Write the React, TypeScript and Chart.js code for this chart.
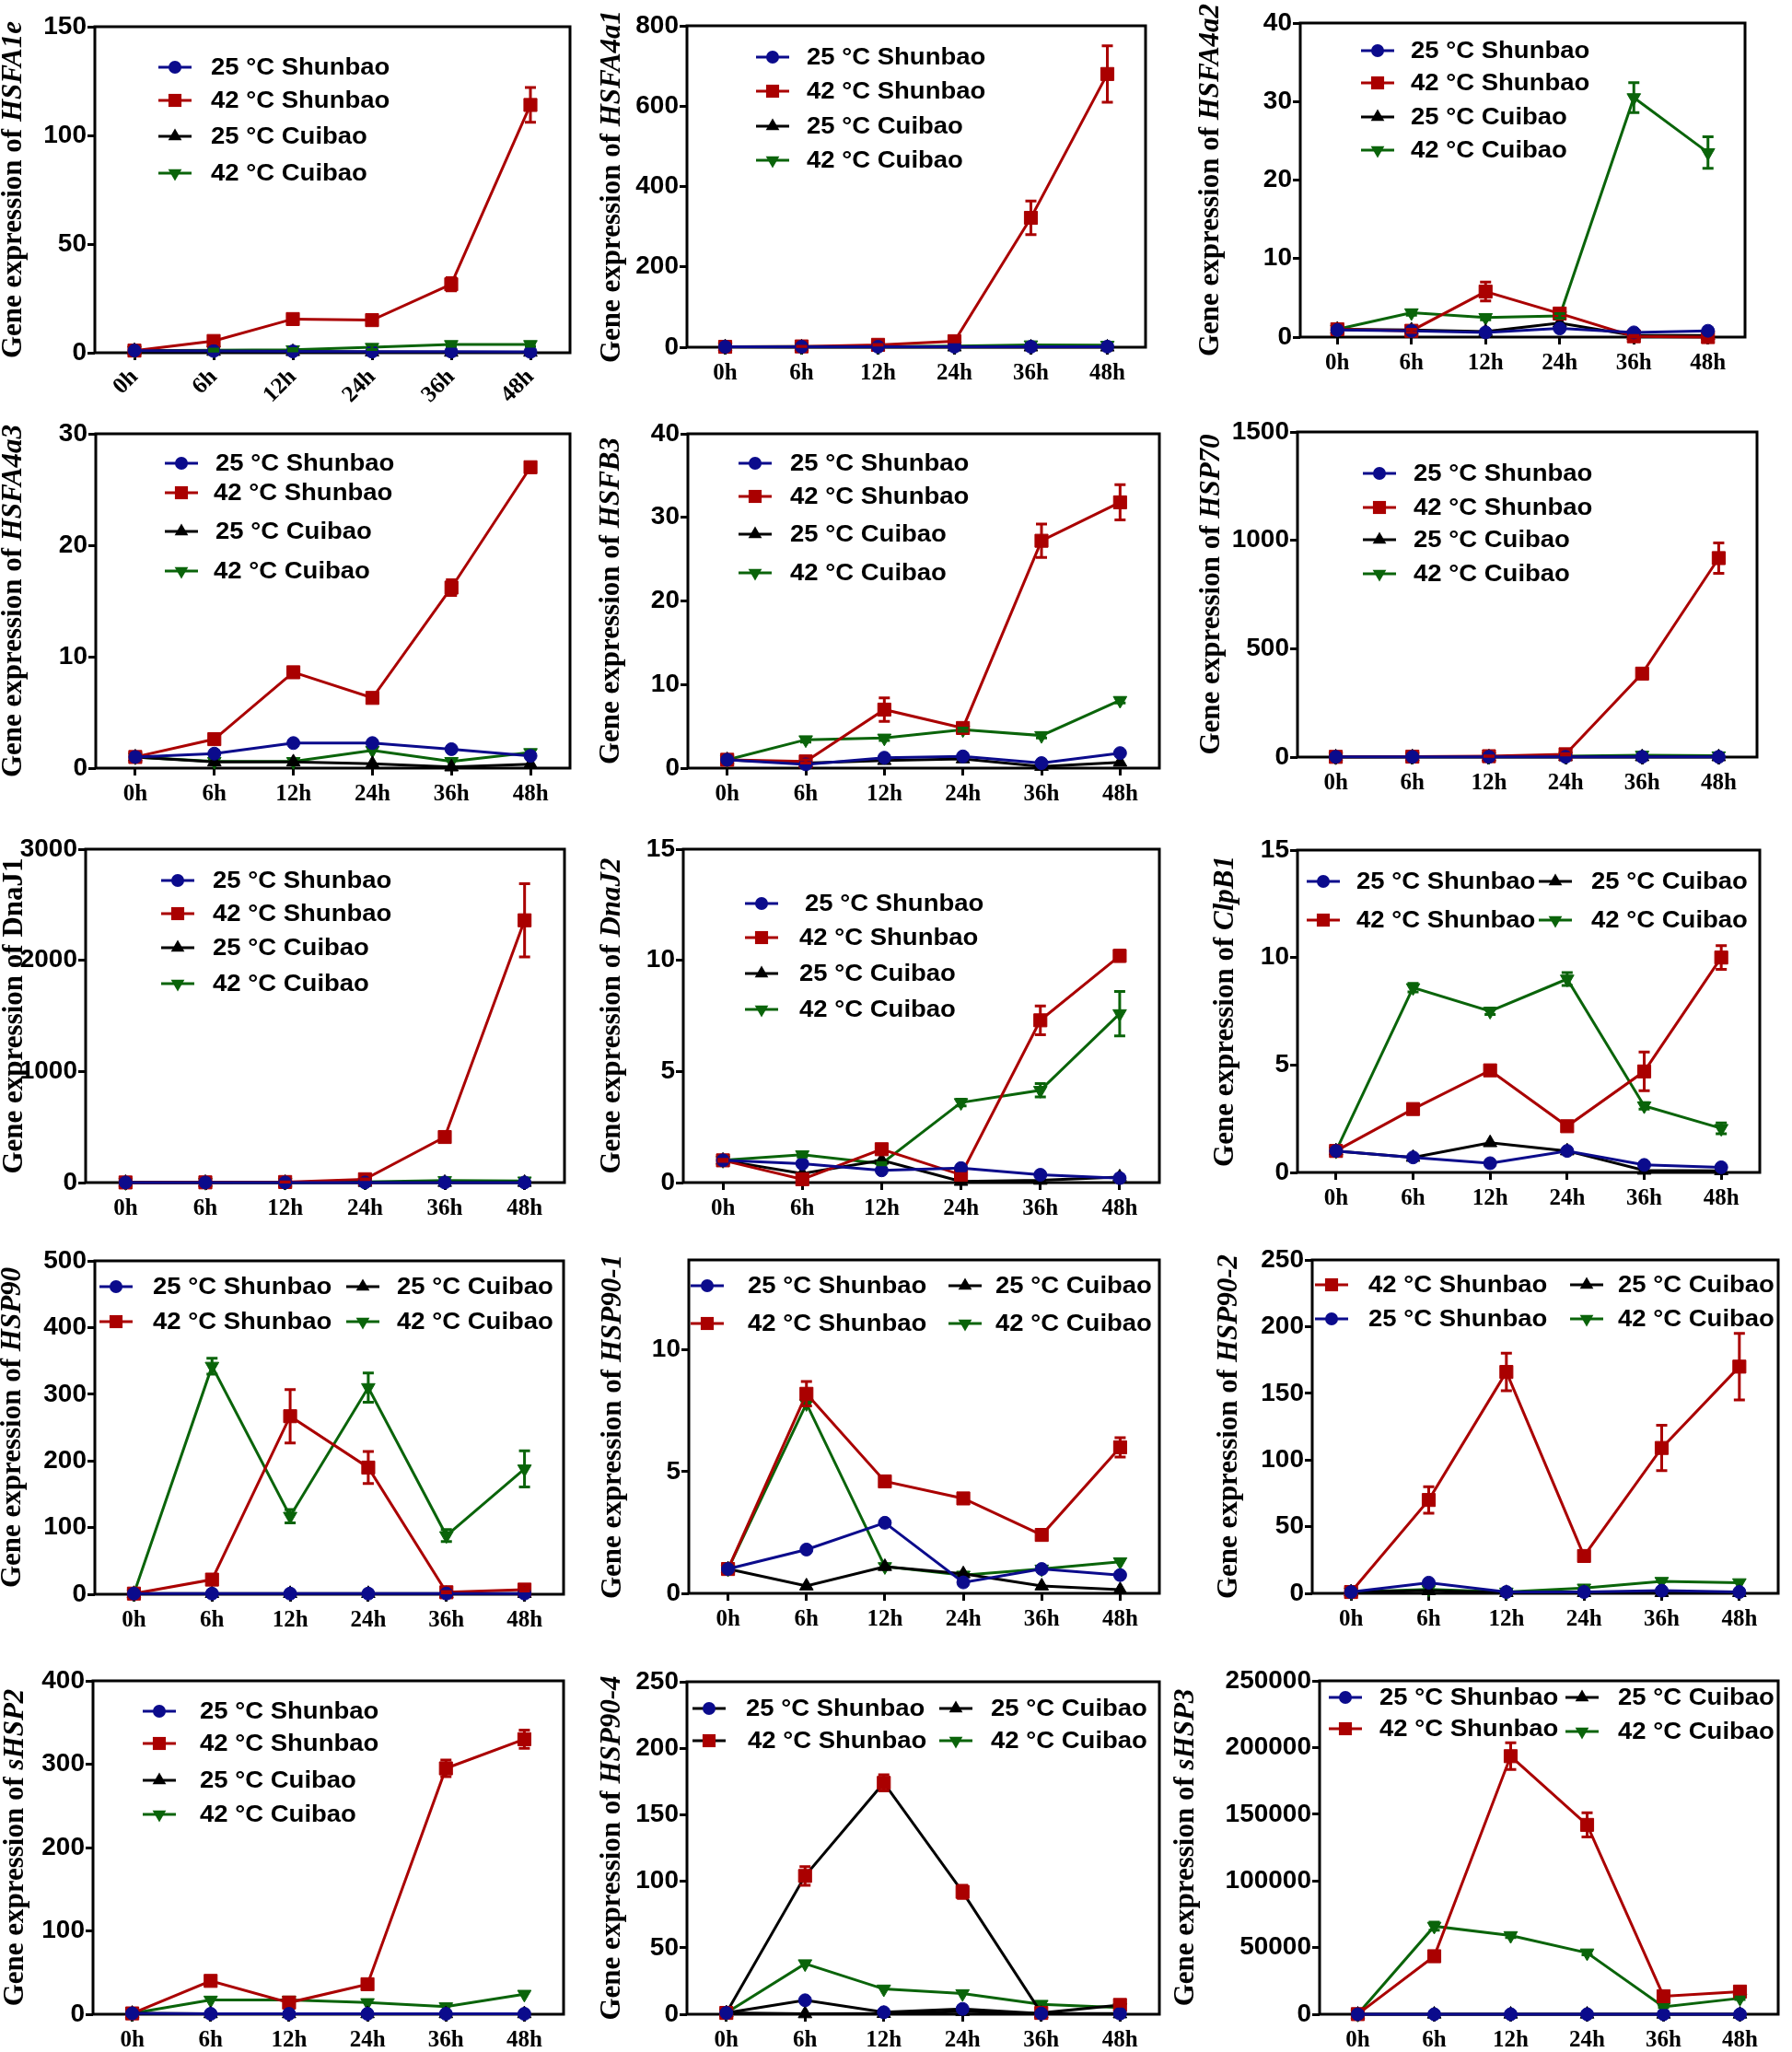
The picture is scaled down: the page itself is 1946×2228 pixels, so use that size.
import React, { useEffect, useRef } from "react";
import { Chart, registerables } from "chart.js";

Chart.register(...registerables);

// ---------- shared categories / labels ----------
const TIMES = ["0h", "6h", "12h", "24h", "36h", "48h"];
const SERIES_LABELS = ["25 °C Shunbao", "42 °C Shunbao", "25 °C Cuibao", "42 °C Cuibao"];

// ---------- data (order: 0h, 6h, 12h, 24h, 36h, 48h) ----------
// HSFA1e
const HSFA1E_S25 = [1, 0.8, 0.6, 0.5, 0.5, 0.4];
const HSFA1E_S42 = [1, 5.4, 15.5, 15, 31.5, 114];
const HSFA1E_C25 = [1, 0.6, 0.5, 0.3, 0.2, 0.2];
const HSFA1E_C42 = [1, 1.2, 1.4, 2.5, 3.8, 3.8];
const HSFA1E_S42_ERR = [0, 0.8, 1.2, 1.2, 3, 8];
const HSFA1E_C42_ERR = [0, 0.5, 0.5, 1, 0.8, 0.8];
// HSFA4a1
const HSFA4A1_S25 = [1, 1.2, 1.1, 1.3, 1.2, 1.4];
const HSFA4A1_S42 = [1, 2, 6, 15, 322, 680];
const HSFA4A1_C25 = [1, 0.6, 0.5, 0.4, 0.4, 0.3];
const HSFA4A1_C42 = [1, 1.5, 2, 3, 6, 5];
const HSFA4A1_S42_ERR = [0, 0.5, 1, 2, 42, 70];
// HSFA4a2
const HSFA4A2_S25 = [0.9, 0.8, 0.6, 1.1, 0.6, 0.8];
const HSFA4A2_S42 = [1, 0.8, 5.8, 3.0, 0.1, 0];
const HSFA4A2_C25 = [1, 0.9, 0.7, 1.8, 0.2, 0.2];
const HSFA4A2_C42 = [1, 3.1, 2.5, 2.7, 30.5, 23.5];
const HSFA4A2_S42_ERR = [0, 0.2, 1.2, 0.4, 0.1, 0];
const HSFA4A2_C42_ERR = [0, 0.3, 0.3, 0.3, 1.9, 2];
// HSFA4a3
const HSFA4A3_S25 = [1, 1.3, 2.25, 2.25, 1.7, 1.1];
const HSFA4A3_S42 = [1, 2.6, 8.6, 6.3, 16.2, 27];
const HSFA4A3_C25 = [1, 0.55, 0.55, 0.4, 0.1, 0.35];
const HSFA4A3_C42 = [1, 0.6, 0.6, 1.6, 0.6, 1.4];
const HSFA4A3_S42_ERR = [0, 0.2, 0.3, 0.2, 0.7, 0.2];
// HSFB3
const HSFB3_S25 = [1, 0.45, 1.25, 1.4, 0.6, 1.8];
const HSFB3_S42 = [1, 0.8, 7.0, 4.8, 27.2, 31.8];
const HSFB3_C25 = [1, 0.6, 0.9, 1.1, 0.2, 0.7];
const HSFB3_C42 = [1, 3.4, 3.6, 4.6, 3.9, 8.1];
const HSFB3_S42_ERR = [0, 0.2, 1.4, 0.3, 2, 2.1];
const HSFB3_C42_ERR = [0, 0.3, 0.3, 0.2, 0.3, 0.3];
// HSP70
const HSP70_S25 = [1, 1, 1, 1, 1, 1];
const HSP70_S42 = [1, 2, 4, 13, 385, 918];
const HSP70_C25 = [1, 1, 1, 1, 1, 1];
const HSP70_C42 = [1, 2, 2, 4, 9, 6];
const HSP70_S42_ERR = [0, 0, 1, 3, 12, 70];
// DnaJ1
const DNAJ1_S25 = [1, 1, 1, 1, 1, 1];
const DNAJ1_S42 = [1, 2, 5, 30, 410, 2360];
const DNAJ1_C25 = [1, 1, 1, 1, 1, 1];
const DNAJ1_C42 = [1, 2, 3, 6, 18, 15];
const DNAJ1_S42_ERR = [0, 0, 1, 3, 25, 330];
// DnaJ2
const DNAJ2_S25 = [1, 0.85, 0.55, 0.65, 0.35, 0.2];
const DNAJ2_S42 = [1, 0.15, 1.5, 0.35, 7.3, 10.2];
const DNAJ2_C25 = [1, 0.4, 1.0, 0.05, 0.1, 0.25];
const DNAJ2_C42 = [1, 1.25, 0.85, 3.6, 4.15, 7.6];
const DNAJ2_S42_ERR = [0.05, 0.05, 0.1, 0.05, 0.65, 0.25];
const DNAJ2_C42_ERR = [0, 0.1, 0.05, 0.15, 0.3, 1.0];
// ClpB1
const CLPB1_S25 = [1, 0.7, 0.43, 1.0, 0.35, 0.24];
const CLPB1_S42 = [1, 2.95, 4.75, 2.15, 4.7, 10.0];
const CLPB1_C25 = [1, 0.7, 1.38, 1.0, 0.1, 0.08];
const CLPB1_C42 = [1, 8.6, 7.5, 9.0, 3.1, 2.05];
const CLPB1_S42_ERR = [0, 0.1, 0.15, 0.1, 0.9, 0.55];
const CLPB1_C42_ERR = [0, 0.2, 0.15, 0.3, 0.15, 0.25];
// HSP90
const HSP90_S25 = [1, 1, 1, 1, 1, 1];
const HSP90_S42 = [1, 22, 267, 190, 3, 7];
const HSP90_C25 = [1, 1, 1, 1, 1, 1];
const HSP90_C42 = [1, 342, 117, 310, 88, 188];
const HSP90_S42_ERR = [0, 2, 40, 24, 1, 2];
const HSP90_C42_ERR = [0, 12, 10, 22, 9, 27];
// HSP90-1
const HSP901_S25 = [1, 1.8, 2.9, 0.45, 1.0, 0.75];
const HSP901_S42 = [1, 8.2, 4.6, 3.9, 2.4, 6.0];
const HSP901_C25 = [1, 0.3, 1.1, 0.8, 0.3, 0.15];
const HSP901_C42 = [1, 7.8, 1.1, 0.75, 1.0, 1.3];
const HSP901_S42_ERR = [0, 0.5, 0.2, 0.1, 0.1, 0.4];
// HSP90-2
const HSP902_S25 = [1, 8, 1, 1, 2, 1];
const HSP902_S42 = [1, 70, 166, 28, 109, 170];
const HSP902_C25 = [1, 2, 0.5, 0.5, 0.5, 0.5];
const HSP902_C42 = [1, 3, 1, 4, 9, 8];
const HSP902_S42_ERR = [0, 10, 14, 3, 17, 25];
// sHSP2
const SHSP2_S25 = [1, 0.5, 0.5, 0.5, 0.5, 0.5];
const SHSP2_S42 = [1, 40, 14, 36, 295, 330];
const SHSP2_C25 = [1, 0.5, 0.5, 0.5, 0.5, 0.5];
const SHSP2_C42 = [1, 17, 17, 14, 9, 24];
const SHSP2_S42_ERR = [0, 3, 2, 3, 10, 11];
// HSP90-4
const HSP904_S25 = [1, 10.5, 1.5, 4, 0.5, 0.5];
const HSP904_S42 = [1, 104, 174, 92, 1, 7];
const HSP904_C25 = [1, 0.3, 0.5, 2, 0.5, 0.2];
const HSP904_C42 = [1, 38, 19, 15.5, 7.5, 5];
const HSP904_S42_ERR = [0, 7, 6, 5, 0, 1];
// sHSP3
const SHSP3_S25 = [1, 1, 1, 1, 1, 1];
const SHSP3_S42 = [100, 43500, 193500, 142000, 13500, 17000];
const SHSP3_C25 = [1, 1, 1, 1, 1, 1];
const SHSP3_C42 = [100, 66000, 59000, 46000, 5500, 12000];
const SHSP3_S42_ERR = [0, 2500, 10000, 9000, 1500, 1000];
const SHSP3_C42_ERR = [0, 3000, 1500, 1500, 500, 1000];

// ---------- styles ----------
const COLORS = ["#0b0b8c", "#aa0000", "#000000", "#0a640a"];
const POINT_STYLES = ["circle", "rect", "triangle", "triangle"];
const POINT_ROT = [0, 0, 0, 180];
const POINT_RADII = [7, 10, 8.5, 8.5];
const SANS = "'Liberation Sans', Arial, Helvetica, sans-serif";
const SERIF = "'Liberation Serif', 'Times New Roman', serif";

type Entry = [number, number, number, number]; // series, markerX, textX, y (page coords)

interface Panel {
  gene: string;
  italic: boolean;
  values: number[][];
  errors: (number[] | null)[];
  yMax: number;
  yStep: number;
  cell: [number, number, number, number];
  plot: [number, number, number, number];
  titleX: number;
  legend: Entry[];
  rotateX?: boolean;
  lineColors?: string[];
}

const C0: [number, number] = [0, 640];
const C1: [number, number] = [640, 630];
const C2: [number, number] = [1270, 676];
const R = [
  [0, 440],
  [440, 450],
  [890, 450],
  [1340, 440],
  [1780, 448],
];
const cell = (c: [number, number], r: number[]): [number, number, number, number] => [c[0], r[0], c[1], r[1]];

const PANELS: Panel[] = [
  {
    gene: "HSFA1e", italic: true,
    values: [HSFA1E_S25, HSFA1E_S42, HSFA1E_C25, HSFA1E_C42],
    errors: [null, HSFA1E_S42_ERR, null, HSFA1E_C42_ERR],
    yMax: 150, yStep: 50, cell: cell(C0, R[0]), plot: [103, 29, 619, 383], titleX: 15, rotateX: true,
    legend: [[0, 190, 229, 73], [1, 190, 229, 109], [2, 190, 229, 148], [3, 190, 229, 188]],
  },
  {
    gene: "HSFA4a1", italic: true,
    values: [HSFA4A1_S25, HSFA4A1_S42, HSFA4A1_C25, HSFA4A1_C42],
    errors: [null, HSFA4A1_S42_ERR, null, null],
    yMax: 800, yStep: 200, cell: cell(C1, R[0]), plot: [746, 28, 1244, 377], titleX: 665,
    legend: [[0, 839, 876, 62], [1, 839, 876, 99], [2, 839, 876, 137], [3, 839, 876, 174]],
  },
  {
    gene: "HSFA4a2", italic: true,
    values: [HSFA4A2_S25, HSFA4A2_S42, HSFA4A2_C25, HSFA4A2_C42],
    errors: [null, HSFA4A2_S42_ERR, null, HSFA4A2_C42_ERR],
    yMax: 40, yStep: 10, cell: cell(C2, R[0]), plot: [1412, 25, 1895, 366], titleX: 1315,
    legend: [[0, 1496, 1532, 55], [1, 1496, 1532, 90], [2, 1496, 1532, 127], [3, 1496, 1532, 163]],
  },
  {
    gene: "HSFA4a3", italic: true,
    values: [HSFA4A3_S25, HSFA4A3_S42, HSFA4A3_C25, HSFA4A3_C42],
    errors: [null, HSFA4A3_S42_ERR, null, null],
    yMax: 30, yStep: 10, cell: cell(C0, R[1]), plot: [104, 471, 619, 834], titleX: 15,
    legend: [[0, 197, 234, 503], [1, 197, 232, 535], [2, 197, 234, 577], [3, 197, 232, 620]],
  },
  {
    gene: "HSFB3", italic: true,
    values: [HSFB3_S25, HSFB3_S42, HSFB3_C25, HSFB3_C42],
    errors: [null, HSFB3_S42_ERR, null, HSFB3_C42_ERR],
    yMax: 40, yStep: 10, cell: cell(C1, R[1]), plot: [747, 471, 1264, 834], titleX: 664,
    legend: [[0, 820, 858, 503], [1, 820, 858, 539], [2, 820, 858, 580], [3, 820, 858, 622]],
  },
  {
    gene: "HSP70", italic: true,
    values: [HSP70_S25, HSP70_S42, HSP70_C25, HSP70_C42],
    errors: [null, HSP70_S42_ERR, null, null],
    yMax: 1500, yStep: 500, cell: cell(C2, R[1]), plot: [1409, 469, 1908, 822], titleX: 1316,
    legend: [[0, 1498, 1535, 514], [1, 1498, 1535, 551], [2, 1498, 1535, 586], [3, 1498, 1535, 623]],
  },
  {
    gene: "DnaJ1", italic: false,
    values: [DNAJ1_S25, DNAJ1_S42, DNAJ1_C25, DNAJ1_C42],
    errors: [null, DNAJ1_S42_ERR, null, null],
    yMax: 3000, yStep: 1000, cell: cell(C0, R[2]), plot: [93, 922, 613, 1284], titleX: 16,
    legend: [[0, 193, 231, 956], [1, 193, 231, 992], [2, 193, 231, 1029], [3, 193, 231, 1068]],
  },
  {
    gene: "DnaJ2", italic: true,
    values: [DNAJ2_S25, DNAJ2_S42, DNAJ2_C25, DNAJ2_C42],
    errors: [null, DNAJ2_S42_ERR, null, DNAJ2_C42_ERR],
    yMax: 15, yStep: 5, cell: cell(C1, R[2]), plot: [742, 922, 1262, 1284], titleX: 665,
    legend: [[0, 827, 874, 981], [1, 827, 868, 1018], [2, 827, 868, 1057], [3, 827, 868, 1096]],
  },
  {
    gene: "ClpB1", italic: true,
    values: [CLPB1_S25, CLPB1_S42, CLPB1_C25, CLPB1_C42],
    errors: [null, CLPB1_S42_ERR, null, CLPB1_C42_ERR],
    yMax: 15, yStep: 5, cell: cell(C2, R[2]), plot: [1409, 923, 1911, 1273], titleX: 1331,
    legend: [[0, 1437, 1473, 957], [1, 1437, 1473, 999], [2, 1689, 1728, 957], [3, 1689, 1728, 999]],
  },
  {
    gene: "HSP90", italic: true,
    values: [HSP90_S25, HSP90_S42, HSP90_C25, HSP90_C42],
    errors: [null, HSP90_S42_ERR, null, HSP90_C42_ERR],
    yMax: 500, yStep: 100, cell: cell(C0, R[3]), plot: [103, 1369, 612, 1731], titleX: 14,
    legend: [[0, 126, 166, 1397], [1, 126, 166, 1435], [2, 394, 431, 1397], [3, 394, 431, 1435]],
  },
  {
    gene: "HSP90-1", italic: true,
    values: [HSP901_S25, HSP901_S42, HSP901_C25, HSP901_C42],
    errors: [null, HSP901_S42_ERR, null, null],
    yMax: 13.7, yStep: 5, cell: cell(C1, R[3]), plot: [748, 1368, 1262, 1730], titleX: 666,
    legend: [[0, 768, 812, 1396], [1, 768, 812, 1437], [2, 1048, 1081, 1396], [3, 1048, 1081, 1437]],
  },
  {
    gene: "HSP90-2", italic: true,
    values: [HSP902_S25, HSP902_S42, HSP902_C25, HSP902_C42],
    errors: [null, HSP902_S42_ERR, null, null],
    yMax: 250, yStep: 50, cell: cell(C2, R[3]), plot: [1425, 1368, 1931, 1730], titleX: 1335,
    legend: [[1, 1446, 1486, 1395], [0, 1446, 1486, 1432], [2, 1723, 1757, 1395], [3, 1723, 1757, 1432]],
  },
  {
    gene: "sHSP2", italic: true,
    values: [SHSP2_S25, SHSP2_S42, SHSP2_C25, SHSP2_C42],
    errors: [null, SHSP2_S42_ERR, null, null],
    yMax: 400, yStep: 100, cell: cell(C0, R[4]), plot: [101, 1825, 612, 2187], titleX: 17,
    legend: [[0, 173, 217, 1858], [1, 173, 217, 1893], [2, 173, 217, 1933], [3, 173, 217, 1970]],
  },
  {
    gene: "HSP90-4", italic: true,
    values: [HSP904_S25, HSP904_S42, HSP904_C25, HSP904_C42],
    errors: [null, HSP904_S42_ERR, null, null],
    yMax: 250, yStep: 50, cell: cell(C1, R[4]), plot: [746, 1826, 1260, 2187], titleX: 665,
    legend: [[0, 770, 810, 1855], [1, 770, 812, 1890], [2, 1038, 1076, 1855], [3, 1038, 1076, 1890]],
    lineColors: ["#000000", "#000000", "#000000", "#0a640a"],
  },
  {
    gene: "sHSP3", italic: true,
    values: [SHSP3_S25, SHSP3_S42, SHSP3_C25, SHSP3_C42],
    errors: [null, SHSP3_S42_ERR, null, SHSP3_C42_ERR],
    yMax: 250000, yStep: 50000, cell: cell(C2, R[4]), plot: [1433, 1825, 1931, 2187], titleX: 1288,
    legend: [[0, 1461, 1498, 1843], [1, 1461, 1498, 1877], [2, 1718, 1757, 1843], [3, 1718, 1757, 1880]],
  },
];

function drawMarker(ctx: CanvasRenderingContext2D, s: number, x: number, y: number) {
  ctx.fillStyle = COLORS[s];
  ctx.beginPath();
  if (s === 0) {
    ctx.arc(x, y, POINT_RADII[0], 0, Math.PI * 2);
  } else if (s === 1) {
    const h = POINT_RADII[1] * Math.SQRT1_2;
    ctx.rect(x - h, y - h, 2 * h, 2 * h);
  } else {
    const r = POINT_RADII[s];
    const dir = s === 2 ? 1 : -1;
    ctx.moveTo(x, y - dir * r);
    ctx.lineTo(x + r * 0.866, y + dir * r * 0.5);
    ctx.lineTo(x - r * 0.866, y + dir * r * 0.5);
    ctx.closePath();
  }
  ctx.fill();
}

function PanelChart({ p }: { p: Panel }) {
  const ref = useRef<HTMLCanvasElement>(null);
  const [cx, cy, cw, ch] = p.cell;
  const [pl, pt, pr, pb] = p.plot;

  useEffect(() => {
    if (!ref.current) return;
    const lineColors = p.lineColors || COLORS;
    const deco = {
      id: "deco",
      beforeDatasetsDraw(chart: any) {
        const { ctx, chartArea } = chart;
        ctx.save();
        ctx.strokeStyle = "#000";
        ctx.lineWidth = 3;
        ctx.strokeRect(chartArea.left, chartArea.top, chartArea.right - chartArea.left, chartArea.bottom - chartArea.top);
        ctx.restore();
      },
      afterDatasetsDraw(chart: any) {
        const { ctx } = chart;
        const xs = chart.scales.x;
        const ys = chart.scales.y;
        ctx.save();
        ctx.lineWidth = 3;
        p.errors.forEach((err, si) => {
          if (!err) return;
          ctx.strokeStyle = COLORS[si];
          err.forEach((e, j) => {
            if (!e) return;
            const v = p.values[si][j];
            const x = xs.getPixelForValue(j);
            const y1 = ys.getPixelForValue(v + e);
            const y2 = ys.getPixelForValue(Math.max(0, v - e));
            ctx.beginPath();
            ctx.moveTo(x, y1);
            ctx.lineTo(x, y2);
            ctx.moveTo(x - 6, y1);
            ctx.lineTo(x + 6, y1);
            ctx.moveTo(x - 6, y2);
            ctx.lineTo(x + 6, y2);
            ctx.stroke();
          });
        });
        ctx.restore();
      },
      afterDraw(chart: any) {
        const { ctx } = chart;
        ctx.save();
        // y-axis title (mixed roman / italic)
        const f1 = `bold 31px ${SERIF}`;
        const f2 = `${p.italic ? "italic " : ""}bold 31px ${SERIF}`;
        const t1 = "Gene expression of ";
        ctx.font = f1;
        const w1 = ctx.measureText(t1).width;
        ctx.font = f2;
        const w2 = ctx.measureText(p.gene).width;
        ctx.translate(p.titleX - cx, (pt + pb) / 2 - cy);
        ctx.rotate(-Math.PI / 2);
        ctx.fillStyle = "#000";
        ctx.textBaseline = "middle";
        ctx.textAlign = "left";
        ctx.font = f1;
        ctx.fillText(t1, -(w1 + w2) / 2, 0);
        ctx.font = f2;
        ctx.fillText(p.gene, -(w1 + w2) / 2 + w1, 0);
        ctx.restore();

        // legend
        ctx.save();
        ctx.font = `bold 25px ${SANS}`;
        ctx.textBaseline = "middle";
        ctx.textAlign = "left";
        p.legend.forEach(([s, mx, tx, y]) => {
          const X = mx - cx;
          const Y = y - cy;
          ctx.strokeStyle = lineColors[s];
          ctx.lineWidth = 3;
          ctx.beginPath();
          ctx.moveTo(X - 18, Y);
          ctx.lineTo(X + 18, Y);
          ctx.stroke();
          drawMarker(ctx, s, X, Y);
          ctx.fillStyle = "#000";
          ctx.save();
          ctx.translate(tx - cx, Y + 1);
          ctx.scale(1.1, 1);
          ctx.fillText(SERIES_LABELS[s], 0, 0);
          ctx.restore();
        });
        ctx.restore();
      },
    };

    const tickGrid = {
      drawOnChartArea: false,
      drawTicks: true,
      tickLength: 8,
      lineWidth: 3,
      color: "#000",
    };
    const rot = p.rotateX ? 45 : 0;
    const yW = pl - cx;
    const xH = cy + ch - pb;

    const chart = new Chart(ref.current, {
      type: "line",
      data: {
        labels: TIMES,
        datasets: p.values.map((vals, i) => ({
          label: SERIES_LABELS[i],
          data: vals,
          borderColor: lineColors[i],
          backgroundColor: COLORS[i],
          borderWidth: 3,
          pointStyle: POINT_STYLES[i] as any,
          pointRotation: POINT_ROT[i],
          pointRadius: POINT_RADII[i],
          pointBackgroundColor: COLORS[i],
          pointBorderColor: COLORS[i],
          pointBorderWidth: 1,
          tension: 0,
          clip: false as any,
        })),
      },
      options: {
        animation: false,
        responsive: false,
        devicePixelRatio: 1,
        events: [],
        layout: { padding: { left: 0, top: pt - cy, right: cx + cw - pr, bottom: 0 } },
        plugins: { legend: { display: false }, tooltip: { enabled: false }, title: { display: false } },
        scales: {
          x: {
            type: "category",
            offset: true,
            grid: { ...tickGrid, offset: false },
            border: { display: false },
            ticks: {
              color: "#000",
              font: { family: SERIF, weight: "bold", size: 25 },
              padding: p.rotateX ? 4 : 6,
              autoSkip: false,
              maxRotation: rot,
              minRotation: rot,
            },
            afterFit: (s: any) => {
              s.height = xH;
            },
          },
          y: {
            type: "linear",
            min: 0,
            max: p.yMax,
            grid: tickGrid,
            border: { display: false },
            ticks: {
              stepSize: p.yStep,
              includeBounds: false,
              color: "#000",
              font: { family: SANS, weight: "bold", size: 28 },
              padding: 1,
              callback: (v: any) => String(v),
            },
            afterFit: (s: any) => {
              s.width = yW;
            },
          },
        },
      } as any,
      plugins: [deco],
    });
    return () => chart.destroy();
  }, []);

  return (
    <canvas
      ref={ref}
      width={cw}
      height={ch}
      style={{ position: "absolute", left: cx, top: cy, width: cw, height: ch }}
    />
  );
}

export default function App() {
  return (
    <div
      style={{
        position: "absolute",
        left: 0,
        top: 0,
        width: 1946,
        height: 2228,
        background: "#ffffff",
        overflow: "hidden",
      }}
    >
      {PANELS.map((p) => (
        <PanelChart key={p.gene} p={p} />
      ))}
    </div>
  );
}
